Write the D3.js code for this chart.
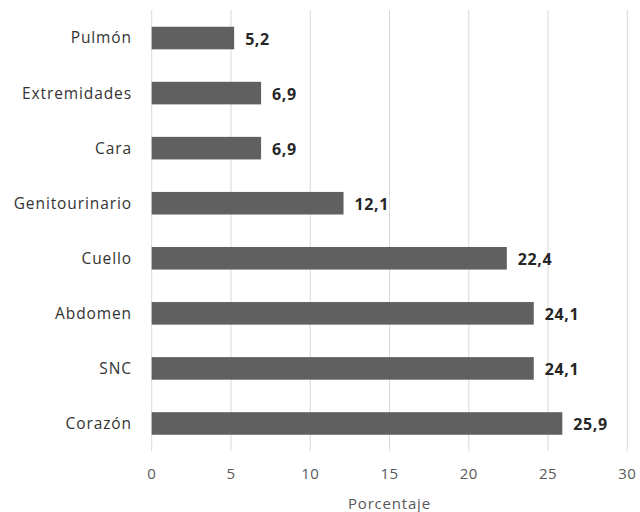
<!DOCTYPE html>
<html><head><meta charset="utf-8">
<script src="https://cdn.jsdelivr.net/npm/d3@7"></script>
<style>body{margin:0;background:#fff}</style>
</head><body>
<script>
const categories = ["Pulmón","Extremidades","Cara","Genitourinario","Cuello","Abdomen","SNC","Corazón"];
const values = [5.2,6.9,6.9,12.1,22.4,24.1,24.1,25.9];
const xTicks = [0,5,10,15,20,25,30];
const xTitle = "Porcentaje";

const W=640,H=512;
const svg=d3.select("body").append("svg").attr("width",W).attr("height",H)
  .style("font-family","'Open Sans', sans-serif");
const x=d3.scaleLinear().domain([0,30]).range([151.7,627.3]);
const y=d3.scaleBand().domain(categories).range([10.5,451]).paddingInner(0.59).paddingOuter(0.295);

svg.append("g").selectAll("line").data(xTicks).join("line")
  .attr("x1",d=>x(d)).attr("x2",d=>x(d)).attr("y1",10).attr("y2",451)
  .attr("stroke","#d9d9d9").attr("stroke-width",1);

svg.append("g").selectAll("rect").data(values).join("rect")
  .attr("x",x(0)).attr("y",(d,i)=>y(categories[i]))
  .attr("width",d=>x(d)-x(0)).attr("height",y.bandwidth())
  .attr("fill","#606060");

svg.append("g").selectAll("text").data(values).join("text")
  .attr("x",d=>x(d)+11).attr("y",(d,i)=>y(categories[i])+y.bandwidth()/2+1)
  .attr("dy","0.35em").attr("font-size",16).attr("font-weight","bold").attr("fill","#262626")
  .attr("letter-spacing",0.6)
  .text(d=>d3.format(".1f")(d).replace(".",","));

svg.append("g").selectAll("text").data(categories).join("text")
  .attr("x",132).attr("y",d=>y(d)+y.bandwidth()/2).attr("dy","0.35em")
  .attr("text-anchor","end").attr("font-size",15.5).attr("letter-spacing",0.9)
  .attr("fill","#333333").text(d=>d);

svg.append("g").selectAll("text").data(xTicks).join("text")
  .attr("x",d=>x(d)).attr("y",473.5).attr("dy","0.35em").attr("text-anchor","middle")
  .attr("font-size",15).attr("letter-spacing",0.5).attr("fill","#595959").text(d=>d);

svg.append("text").attr("x",389.5).attr("y",509).attr("text-anchor","middle")
  .attr("font-size",15).attr("letter-spacing",0.8).attr("fill","#595959").text(xTitle);
</script>
</body></html>
